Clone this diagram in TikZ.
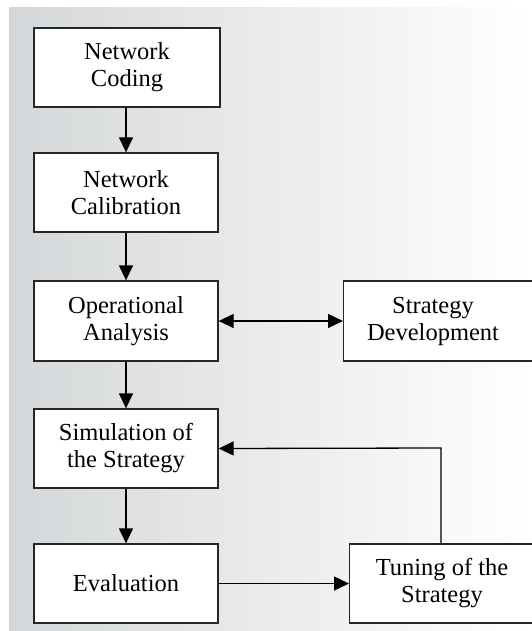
\documentclass[tikz,border=0pt]{standalone}
\usepackage{fontspec}
\setmainfont{Liberation Serif}
\usetikzlibrary{arrows.meta}
\definecolor{bgleft}{RGB}{212,215,217}
\tikzset{
  box/.style={draw=black!85, line width=1.3pt, fill=white, rectangle, inner sep=0pt},
  txt/.style={align=center, font=\fontsize{24.5}{27}\selectfont, inner sep=0pt},
  conn/.style={line width=1.3pt, -{Triangle[length=15pt,width=14pt]}},
  conn2/.style={line width=1.3pt, {Triangle[length=15pt,width=14pt]}-{Triangle[length=15pt,width=14pt]}}
}
\begin{document}
\begin{tikzpicture}[x=1pt,y=-1pt]
\useasboundingbox (0,0) rectangle (532,631);
\begin{scope}
\clip (0,0) rectangle (532,631);
\shade[left color=bgleft, right color=white] (9,8) rectangle (532,631);
% boxes
\node[box, minimum width=186pt, minimum height=79pt] (nc) at (127,67.5) {};
\node[txt] at (nc) {Network\\Coding};
\node[box, minimum width=184pt, minimum height=79pt] (cal) at (126,192.5) {};
\node[txt] at (cal) {Network\\Calibration};
\node[box, minimum width=184pt, minimum height=80pt] (op) at (126,321) {};
\node[txt] at (op) {Operational\\Analysis};
\node[box, minimum width=200pt, minimum height=80pt, anchor=west] (sd) at (343,321) {};
\node[txt] at (433,321) {Strategy\\Development};
\node[box, minimum width=184pt, minimum height=79pt] (sim) at (126,448.5) {};
\node[txt] at (sim) {Simulation of\\the Strategy};
\node[box, minimum width=184pt, minimum height=79pt] (ev) at (126,583.5) {};
\node[txt] at (ev) {Evaluation};
\node[box, minimum width=200pt, minimum height=79pt, anchor=west] (tu) at (349,583.5) {};
\node[txt] at (442,583.5) {Tuning of the\\Strategy};
% connectors
\draw[conn] (nc.south -| 126,0) -- (cal.north);
\draw[conn] (cal.south) -- (op.north);
\draw[conn2] (op.east) -- (sd.west);
\draw[conn] (op.south) -- (sim.north);
\draw[conn] (sim.south) -- (ev.north);
\draw[conn] (ev.east) -- (tu.west);
\coordinate (corner) at (441,448);
\draw[conn] (tu.north -| corner) -- (corner) -- (sim.east);
\end{scope}
\end{tikzpicture}
\end{document}
